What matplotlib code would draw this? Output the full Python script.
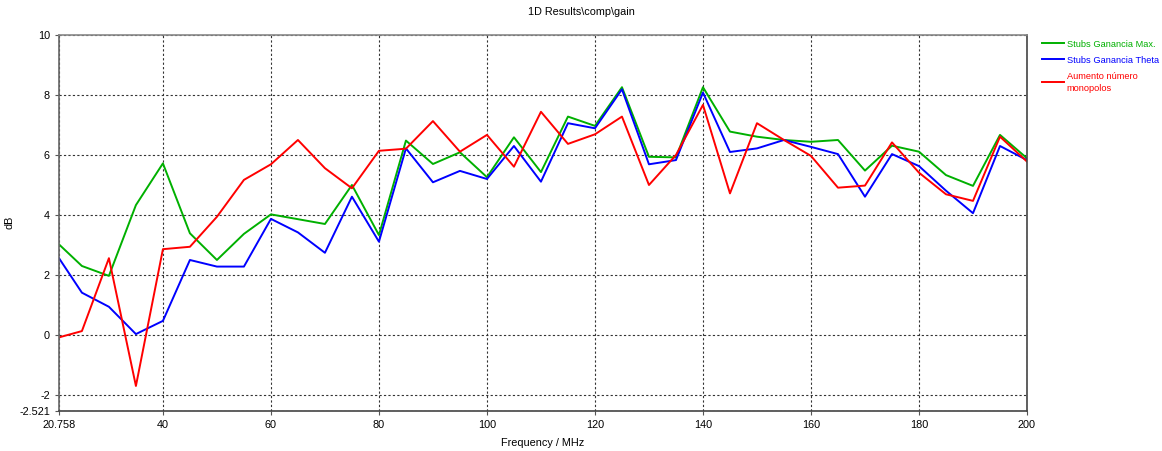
import matplotlib
matplotlib.use("Agg")
import matplotlib.pyplot as plt

freq = [20.758, 25, 30, 35, 40, 45, 50, 55, 60, 65, 70, 75, 80, 85, 90, 95, 100,
        105, 110, 115, 120, 125, 130, 135, 140, 145, 150, 155, 160, 165, 170,
        175, 180, 185, 190, 195, 200]

gain_max = [3.02, 2.3, 1.97, 4.33, 5.72, 3.39, 2.5, 3.37, 4.02, 3.86, 3.7, 5.0,
            3.33, 6.48, 5.7, 6.09, 5.26, 6.59, 5.43, 7.28, 6.97, 8.26, 5.94,
            5.92, 8.26, 6.78, 6.61, 6.5, 6.44, 6.5, 5.48, 6.31, 6.11, 5.33,
            4.97, 6.67, 5.89]

gain_theta = [2.56, 1.41, 0.94, 0.03, 0.47, 2.5, 2.28, 2.28, 3.87, 3.42, 2.74,
              4.61, 3.11, 6.22, 5.09, 5.47, 5.2, 6.3, 5.11, 7.06, 6.89, 8.19,
              5.69, 5.83, 8.08, 6.1, 6.22, 6.5, 6.27, 6.03, 4.61, 6.03, 5.63,
              4.81, 4.06, 6.3, 5.83]

monopolos = [-0.08, 0.13, 2.56, -1.7, 2.86, 2.94, 3.94, 5.17, 5.69, 6.5, 5.56,
             4.89, 6.14, 6.21, 7.13, 6.11, 6.67, 5.61, 7.44, 6.37, 6.69, 7.28,
             5.0, 6.0, 7.67, 4.72, 7.06, 6.5, 5.97, 4.91, 4.98, 6.42, 5.41,
             4.69, 4.47, 6.61, 5.78]

xticks = [20.758, 40, 60, 80, 100, 120, 140, 160, 180, 200]
yticks = [-2.521, -2, 0, 2, 4, 6, 8, 10]

plt.rcParams['font.family'] = ['Liberation Sans', 'DejaVu Sans']
plt.rcParams['font.size'] = 7.8

fig = plt.figure(figsize=(11.62, 4.51), dpi=100)
ax = fig.add_axes([59 / 1162, 1 - 410.6 / 451, (1027 - 59) / 1162, (410.6 - 35) / 451])

ax.plot(freq, gain_max, color='#00b000', lw=1.4, label='Stubs Ganancia Max.')
ax.plot(freq, gain_theta, color='#0000ff', lw=1.4, label='Stubs Ganancia Theta')
ax.plot(freq, monopolos, color='#ff0000', lw=1.4, label='Aumento número\nmonopolos')

ax.set_xlim(20.758, 200)
ax.set_ylim(-2.521, 10)
ax.set_xticks(xticks)
ax.set_xticklabels([str(t) for t in xticks])
ax.set_yticks(yticks)
ax.set_yticklabels([str(t) for t in yticks])
ax.grid(True, color='#333333', linestyle=(0, (2, 2)), lw=0.8)
ax.tick_params(direction='out', length=3, width=0.8, colors='#555555', labelcolor='black')

ax.spines['top'].set_color('#888888')
ax.spines['left'].set_color('#666666')
ax.spines['right'].set_color('#444444')
ax.spines['bottom'].set_color('#444444')
for s in ax.spines.values():
    s.set_linewidth(1.2)

ax.set_xlabel('Frequency / MHz', labelpad=6)
ax.set_ylabel('dB')
ax.yaxis.set_label_coords(-0.046, 0.5)
fig.text(0.5, 1 - 12 / 451, '1D Results\\comp\\gain', ha='center', va='center', fontsize=7.8)

leg = fig.legend(loc='upper left', bbox_to_anchor=(1038 / 1162, 1 - 36 / 451), frameon=False,
                 handlelength=2.4, handletextpad=0.3, labelcolor='linecolor', labelspacing=0.75,
                 borderaxespad=0, fontsize=6.7)
for t in leg.get_texts():
    t.set_linespacing(1.45)

fig.savefig('out.png', dpi=100)
